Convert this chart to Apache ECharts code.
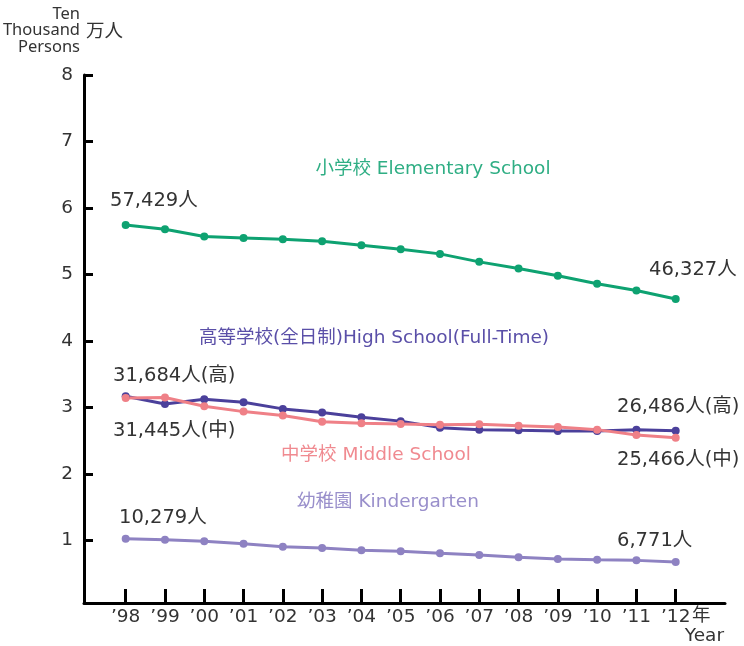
<!DOCTYPE html>
<html>
<head>
<meta charset="utf-8">
<script src="https://cdn.jsdelivr.net/npm/echarts@6/dist/echarts.min.js"></script>
<style>
  html, body { margin: 0; padding: 0; background: #fff; }
  #chart { width: 744px; height: 646px; }
</style>
</head>
<body>
<div id="chart"></div>
<script>
// 年度ラベル
var years = ['’98', '’99', '’00', '’01', '’02', '’03', '’04', '’05', '’06', '’07', '’08', '’09', '’10', '’11', '’12'];
var yTicks = [1, 2, 3, 4, 5, 6, 7, 8];
// 単位: 万人
var elementary = [5.7429, 5.68, 5.57, 5.55, 5.53, 5.50, 5.44, 5.38, 5.31, 5.19, 5.09, 4.98, 4.86, 4.76, 4.6327];
var highSchool = [3.1684, 3.054, 3.124, 3.078, 2.979, 2.923, 2.852, 2.795, 2.697, 2.667, 2.656, 2.647, 2.647, 2.667, 2.6486];
var middle = [3.1445, 3.149, 3.018, 2.938, 2.878, 2.787, 2.762, 2.753, 2.742, 2.747, 2.727, 2.707, 2.667, 2.587, 2.5466];
var kinder = [1.0279, 1.012, 0.988, 0.952, 0.906, 0.887, 0.852, 0.837, 0.807, 0.781, 0.747, 0.721, 0.710, 0.701, 0.6771];

var FONT = '"DejaVu Sans", "Noto Sans CJK JP", sans-serif';
var TXT = '#333';

function pairs(arr) {
    return arr.map(function (v, i) { return [i, v]; });
}
// 57429 -> "57,429人"
function persons(v) {
    return String(Math.round(v * 10000)).replace(/\B(?=(\d{3})+(?!\d))/g, ',') + '人';
}
function txt(text, x, y, color, size, align) {
    return {
        type: 'text',
        style: {
            text: text, x: x, y: y,
            fill: color || TXT,
            fontSize: size || 19.5,
            fontFamily: FONT,
            align: align || 'left',
            verticalAlign: 'middle'
        }
    };
}
function lineSeries(name, data, color) {
    return {
        name: name,
        type: 'line',
        data: pairs(data),
        symbol: 'circle',
        symbolSize: 8,
        lineStyle: { color: color, width: 3 },
        itemStyle: { color: color },
        silent: true
    };
}

var last = years.length - 1;
var myChart = echarts.init(document.getElementById('chart'));
myChart.setOption({
    animation: false,
    grid: { left: 84, right: 19, top: 75, bottom: 43 },
    xAxis: {
        type: 'value',
        min: -1.061,
        max: 15.255,
        splitLine: { show: false },
        axisLine: { onZero: false, lineStyle: { color: '#000', width: 3 } },
        axisTick: {
            inside: true, length: 14,
            customValues: years.map(function (y, i) { return i; }),
            lineStyle: { color: '#000', width: 3 }
        },
        axisLabel: {
            customValues: years.map(function (y, i) { return i; }),
            formatter: function (v) { return years[v]; },
            color: TXT, fontSize: 18.5, fontFamily: FONT, margin: 5
        }
    },
    yAxis: {
        type: 'value',
        min: 0.06,
        max: 8,
        splitLine: { show: false },
        axisLine: { onZero: false, lineStyle: { color: '#000', width: 3 } },
        axisTick: {
            inside: true, length: 9,
            customValues: yTicks,
            lineStyle: { color: '#000', width: 3 }
        },
        axisLabel: {
            customValues: yTicks,
            color: TXT, fontSize: 18.5, fontFamily: FONT, margin: 11
        }
    },
    series: [
        lineSeries('小学校', elementary, '#0ea271'),
        lineSeries('高等学校', highSchool, '#4b409b'),
        lineSeries('中学校', middle, '#ef8087'),
        lineSeries('幼稚園', kinder, '#8e82c2')
    ],
    graphic: [
        {
            type: 'text',
            style: {
                text: 'Ten\nThousand\nPersons', x: 80, y: 6,
                fill: TXT, fontSize: 16.5, lineHeight: 16.5,
                fontFamily: '"Noto Sans", sans-serif', align: 'right'
            }
        },
        txt('万人', 86, 32, TXT, 18.5),
        txt('年', 692, 616, TXT, 18.5),
        txt('Year', 724, 636, TXT, 18.5, 'right'),
        // 系列名
        txt('小学校 Elementary School', 433, 169, '#2fae84', 18.5, 'center'),
        txt('高等学校(全日制)High School(Full-Time)', 374, 338, '#5a4fa8', 18.5, 'center'),
        txt('中学校 Middle School', 376, 455, '#f08a90', 18.5, 'center'),
        txt('幼稚園 Kindergarten', 388, 502, '#998fcb', 18.5, 'center'),
        // 始点・終点の値
        txt(persons(elementary[0]), 110, 201),
        txt(persons(elementary[last]), 649, 270),
        txt(persons(highSchool[0]) + '(高)', 113, 376),
        txt(persons(middle[0]) + '(中)', 113, 431),
        txt(persons(highSchool[last]) + '(高)', 617, 407),
        txt(persons(middle[last]) + '(中)', 617, 460),
        txt(persons(kinder[0]), 119, 518),
        txt(persons(kinder[last]), 617, 541)
    ]
});
</script>
</body>
</html>
